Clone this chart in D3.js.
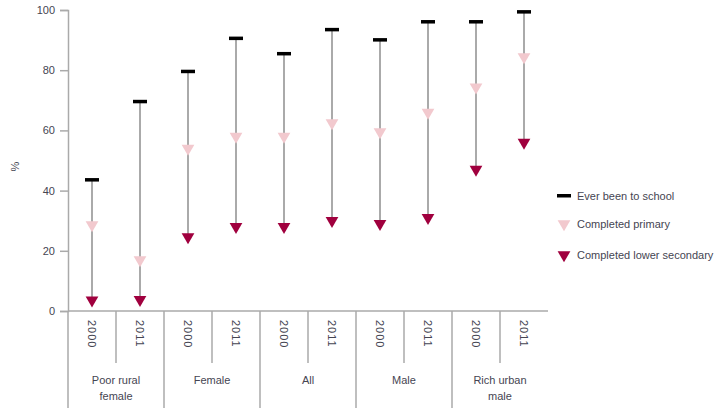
<!DOCTYPE html>
<html>
<head>
<meta charset="utf-8">
<script src="https://cdn.jsdelivr.net/npm/d3@7"></script>
<style>
body { margin: 0; background: #fff; }
text { font-family: "Liberation Sans", Arial, sans-serif; fill: #454552; }
</style>
</head>
<body>
<svg id="svg-container" width="728" height="412"></svg>
<script>
var groups = ['Poor rural|female', 'Female', 'All', 'Male', 'Rich urban|male'];
var years = ['2000', '2011'];
var everSchool = [43.5, 69.5, 79.5, 90.5, 85.4, 93.4, 90, 96, 96, 99.3];
var primary = [28.6, 17, 54, 58, 58, 62.5, 59.5, 66, 74.4, 84.4];
var lowerSec = [3.6, 3.8, 24.6, 28, 28, 30, 29, 31, 47, 56];
var yTicks = [0, 20, 40, 60, 80, 100];
var legendLbls = ['Ever been to school', 'Completed primary', 'Completed lower secondary'];

var svg = d3.select('#svg-container'),
    margin = { left: 68, top: 10, right: 180, bottom: 101 },
    plotW = 548 - margin.left,
    plotH = 311 - margin.top;

// one slot per group-year pair
var slots = [];
groups.forEach(function (g, gi) {
    years.forEach(function (y, yi) { slots.push({ g: gi, y: y, key: gi + '-' + y }); });
});

var x = d3.scaleBand().domain(slots.map(function (d) { return d.key; }))
    .range([margin.left, margin.left + plotW]);
var y = d3.scaleLinear().domain([0, 100]).range([margin.top + plotH, margin.top]);

var grey = '#aaa', pink = '#f2c9ce', dark = '#a0003e';

// y axis
var yAxis = svg.append('g').attr('transform', 'translate(' + margin.left + ',0)')
    .call(d3.axisLeft(y).tickValues(yTicks).tickSize(8).tickPadding(5));
yAxis.select('.domain').attr('stroke', grey).attr('stroke-width', 1.5);
yAxis.selectAll('.tick line').attr('stroke', grey).attr('stroke-width', 1.5);
yAxis.selectAll('.tick text').style('font-size', '11px').style('font-family', null).attr('fill', null);

svg.append('text').attr('transform', 'translate(19,' + (y(50) + 6) + ') rotate(-90)')
    .attr('text-anchor', 'middle').style('font-size', '11px').text('%');

// x axis line
svg.append('line').attr('x1', margin.left).attr('x2', margin.left + plotW)
    .attr('y1', y(0)).attr('y2', y(0)).attr('stroke', grey).attr('stroke-width', 1.5);

// dividers
var bw = x.bandwidth();
groups.forEach(function (g, gi) {
    var x0 = x(gi + '-2000');
    svg.append('line').attr('x1', x0).attr('x2', x0).attr('y1', y(0)).attr('y2', 408)
        .attr('stroke', grey).attr('stroke-width', 1.5);
    svg.append('line').attr('x1', x0 + bw).attr('x2', x0 + bw).attr('y1', y(0)).attr('y2', 363)
        .attr('stroke', grey).attr('stroke-width', 1.5);
    var lines = g.split('|');
    var t = svg.append('text').attr('text-anchor', 'middle').style('font-size', '11px');
    lines.forEach(function (l, li) {
        t.append('tspan').attr('x', x0 + bw).attr('y', 384 + li * 16).text(l);
    });
});

// year labels
svg.selectAll('.yr').data(slots).enter().append('text')
    .attr('class', 'yr')
    .attr('transform', function (d) { return 'translate(' + (x(d.key) + bw / 2 - 4) + ',' + (y(0) + 9) + ') rotate(90)'; })
    .style('font-size', '11px').style('letter-spacing', '1px').text(function (d) { return d.y; });

// stems
var cx = function (i) { return x(slots[i].key) + bw / 2; };
svg.selectAll('.stem').data(slots).enter().append('line')
    .attr('x1', function (d, i) { return cx(i); }).attr('x2', function (d, i) { return cx(i); })
    .attr('y1', function (d, i) { return y(everSchool[i]); })
    .attr('y2', function (d, i) { return y(lowerSec[i]); })
    .attr('stroke', grey).attr('stroke-width', 2);

// black bars
svg.selectAll('.ever').data(everSchool).enter().append('rect')
    .attr('x', function (d, i) { return cx(i) - 7; }).attr('y', function (d) { return y(d) - 2; })
    .attr('width', 14).attr('height', 3.5).attr('fill', '#000');

var tri = d3.symbol().type(d3.symbolTriangle).size(70);
svg.selectAll('.prim').data(primary).enter().append('path')
    .attr('d', tri).attr('fill', pink)
    .attr('transform', function (d, i) { return 'translate(' + cx(i) + ',' + y(d) + ') rotate(180)'; });
svg.selectAll('.low').data(lowerSec).enter().append('path')
    .attr('d', tri).attr('fill', dark)
    .attr('transform', function (d, i) { return 'translate(' + cx(i) + ',' + y(d) + ') rotate(180)'; });

// legend
var leg = svg.append('g').attr('transform', 'translate(557,0)');
var ly = [196, 224, 255];
leg.append('rect').attr('x', 0).attr('y', ly[0] - 2).attr('width', 14).attr('height', 3.5).attr('fill', '#000');
leg.append('path').attr('d', tri).attr('fill', pink).attr('transform', 'translate(7,' + ly[1] + ') rotate(180)');
leg.append('path').attr('d', tri).attr('fill', dark).attr('transform', 'translate(7,' + ly[2] + ') rotate(180)');
leg.selectAll('.lt').data(legendLbls).enter().append('text')
    .attr('x', 20).attr('y', function (d, i) { return ly[i] + 4; })
    .style('font-size', '11px').text(function (d) { return d; });
</script>
</body>
</html>
